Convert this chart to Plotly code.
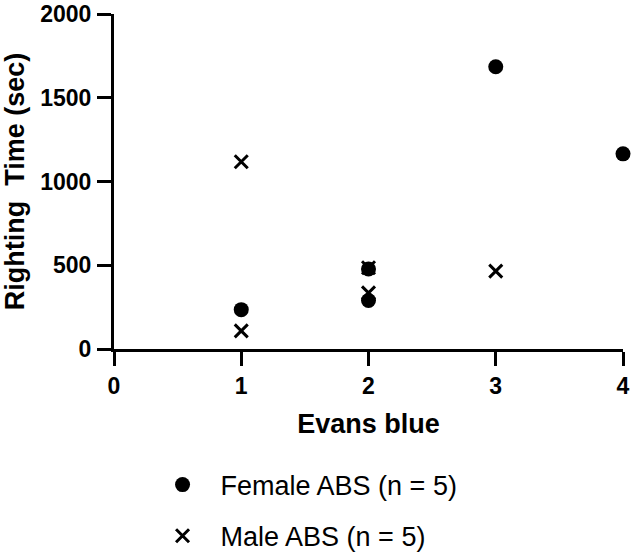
import plotly.graph_objects as go

# Evans blue score vs righting time
female_x = [1, 2, 2, 3, 4]
female_y = [235, 290, 478, 1685, 1165]
male_x = [1, 1, 2, 2, 3]
male_y = [108, 1118, 335, 485, 465]

x_ticks = [0, 1, 2, 3, 4]
y_ticks = [0, 500, 1000, 1500, 2000]

FONT = "Arial, Liberation Sans, sans-serif"

fig = go.Figure()

fig.add_trace(
    go.Scatter(
        x=female_x,
        y=female_y,
        mode="markers",
        name="Female ABS (n = 5)",
        legendgroup="f",
        marker=dict(symbol="circle", size=15, color="black"),
        cliponaxis=False,
    )
)

fig.add_trace(
    go.Scatter(
        x=male_x,
        y=male_y,
        mode="markers",
        name="Male ABS (n = 5)",
        legendgroup="m",
        marker=dict(symbol="x-thin", size=13, color="black",
                    line=dict(width=3, color="black")),
        cliponaxis=False,
    )
)

axis_common = dict(
    showgrid=False,
    zeroline=False,
    showline=True,
    linewidth=3,
    linecolor="black",
    ticks="outside",
    ticklen=14,
    tickwidth=3,
    tickcolor="black",
    tickfont=dict(family=FONT, size=23, color="black", weight="bold"),
    automargin=False,
    ticklabeloverflow="allow",
)

fig.update_layout(
    width=633,
    height=552,
    plot_bgcolor="white",
    paper_bgcolor="white",
    # legend sits low on the page; don't let it shrink the plot area
    margin=dict(l=114, r=10, t=14, b=203, autoexpand=False),
    font=dict(family=FONT, size=23, color="black"),
    showlegend=True,
    legend=dict(
        x=0.06,
        y=-0.333,
        xanchor="left",
        yanchor="top",
        font=dict(family=FONT, size=27, color="black"),
        traceorder="grouped",
        tracegroupgap=13,
        itemwidth=66,
        bgcolor="rgba(0,0,0,0)",
    ),
    xaxis=dict(
        range=[0, 4],
        tickvals=x_ticks,
        title=dict(text="<b>Evans blue</b>", font=dict(family=FONT, size=27), standoff=17),
        **axis_common,
    ),
    yaxis=dict(
        range=[0, 2000],
        tickvals=y_ticks,
        ticklabelstandoff=1,
        title=dict(text="<b>Righting  Time (sec)</b>", font=dict(family=FONT, size=27), standoff=26),
        **axis_common,
    ),
)

# drop the default 8px body margin so the figure fills the window
fig.write_html(
    "out.html",
    config={"displayModeBar": False},
    post_script="document.body.style.margin = '0';",
)
